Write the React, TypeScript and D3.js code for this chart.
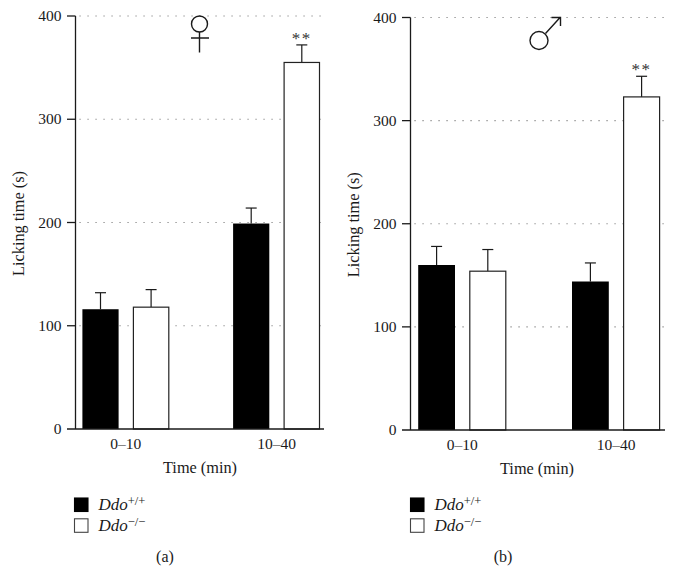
import React from "react";
import * as d3 from "d3";

const categories = ["0–10", "10–40"];
const genotypes = ["+/+", "−/−"];
const yTicks = [0, 100, 200, 300, 400];

const femaleWild = [116, 199];
const femaleWildErr = [132, 214];
const femaleKnockout = [118, 355];
const femaleKnockoutErr = [135, 372];

const maleWild = [160, 144];
const maleWildErr = [178, 162];
const maleKnockout = [154, 323];
const maleKnockoutErr = [175, 343];

const INK = "#1a1a1a";
const FONT = "'Liberation Serif', serif";

type PanelProps = {
  axisX: number; top: number; bottom: number; right: number;
  groupA: number; groupB: number; halfGap: number; barW: number;
  wild: number[]; wildErr: number[]; ko: number[]; koErr: number[];
  panel: string; panelX: number; titleX: number; legendX: number;
  ylabelX: number; symbol: React.ReactNode;
};

function Panel(p: PanelProps) {
  const y = d3.scaleLinear().domain([0, 400]).range([p.bottom, p.top]);
  const x = d3.scaleOrdinal<string, number>().domain(categories).range([p.groupA, p.groupB]);
  const series = [
    { v: p.wild, e: p.wildErr, off: -p.halfGap, fill: "#000" },
    { v: p.ko, e: p.koErr, off: p.halfGap, fill: "#fff" },
  ];
  return (
    <g fontFamily={FONT} fill={INK}>
      {yTicks.filter((t) => t > 0).map((t) => (
        <line key={t} x1={p.axisX + 4} x2={p.right} y1={y(t)} y2={y(t)} stroke="#777" strokeWidth={1.1} strokeDasharray="1.1 6.9" />
      ))}
      {series.map((s, si) => categories.map((c, i) => {
        const cx = x(c) + s.off;
        const black = s.fill === "#000";
        const w = black ? p.barW + 0.8 : p.barW;
        return (
          <g key={si + c}>
            <line x1={cx} x2={cx} y1={y(s.v[i])} y2={y(s.e[i])} stroke={INK} strokeWidth={1.2} />
            <line x1={cx - 5.5} x2={cx + 5.5} y1={y(s.e[i])} y2={y(s.e[i])} stroke={INK} strokeWidth={1.2} />
            <rect x={cx - w / 2} width={w} y={y(s.v[i])} height={y(0) - y(s.v[i])} fill={s.fill} stroke={black ? "none" : "#222"} strokeWidth={1.2} />
          </g>
        );
      }))}
      <text x={x(categories[1]) + p.halfGap} y={y(p.koErr[1]) - 1} textAnchor="middle" fontSize={17} letterSpacing={1.5} fill="#333">**</text>
      <line x1={p.axisX} x2={p.axisX} y1={y(400)} y2={y(0)} stroke={INK} strokeWidth={1.3} />
      <line x1={p.axisX - 8.5} x2={p.right} y1={y(0)} y2={y(0)} stroke={INK} strokeWidth={1.3} />
      {yTicks.map((t) => (
        <g key={t}>
          {t > 0 && <line x1={p.axisX - 8.5} x2={p.axisX} y1={y(t)} y2={y(t)} stroke={INK} strokeWidth={1.3} />}
          <text x={p.axisX - 14} y={y(t) + 5} textAnchor="end" fontSize={15.5}>{t}</text>
        </g>
      ))}
      {categories.map((c) => (
        <text key={c} x={x(c)} y={p.bottom + 19.5} textAnchor="middle" fontSize={15.5}>{c}</text>
      ))}
      <text x={p.titleX} y={p.bottom + 44} textAnchor="middle" fontSize={16.3}>Time (min)</text>
      <text transform={`translate(${p.ylabelX},${(y(400) + y(0)) / 2 + 1}) rotate(-90)`} textAnchor="middle" fontSize={16.3}>Licking time (s)</text>
      {genotypes.map((g, i) => (
        <g key={g}>
          <rect x={p.legendX} y={498 + i * 20.8} width={13.5} height={13.5} fill={i === 0 ? "#000" : "#fff"} stroke={i === 0 ? "#000" : "#444"} strokeWidth={1.1} />
          <text x={p.legendX + 24} y={510 + i * 20.8} fontSize={17}>
            <tspan fontStyle="italic">Ddo</tspan>
            <tspan dy={-5} fontSize={12.5}>{g}</tspan>
          </text>
        </g>
      ))}
      <text x={p.panelX} y={562} textAnchor="middle" fontSize={16}>({p.panel})</text>
      {p.symbol}
    </g>
  );
}

export default function App() {
  return (
    <svg width={676} height={574} style={{ position: "absolute", left: 0, top: 0, background: "#fff" }}>
      <Panel axisX={75.5} top={16} bottom={429} right={324} groupA={125.8} groupB={276.5} halfGap={25.3} barW={35.4}
        wild={femaleWild} wildErr={femaleWildErr} ko={femaleKnockout} koErr={femaleKnockoutErr}
        panel="a" panelX={165} titleX={200} legendX={74.5} ylabelX={24}
        symbol={
          <g fill="none" stroke={INK} strokeWidth={1.4}>
            <circle cx={199.5} cy={24} r={8} />
            <path d="M199.5 32V52.5M191 38H209" />
          </g>
        } />
      <Panel axisX={410.5} top={17.5} bottom={430} right={665} groupA={462.2} groupB={616} halfGap={25.6} barW={36}
        wild={maleWild} wildErr={maleWildErr} ko={maleKnockout} koErr={maleKnockoutErr}
        panel="b" panelX={503} titleX={537} legendX={410.5} ylabelX={359}
        symbol={
          <g fill="none" stroke={INK} strokeWidth={1.4}>
            <circle cx={539} cy={40.5} r={9} />
            <path d="M545.5 33.5L560.5 17M551.5 17.5H560.5V26" />
          </g>
        } />
    </svg>
  );
}
